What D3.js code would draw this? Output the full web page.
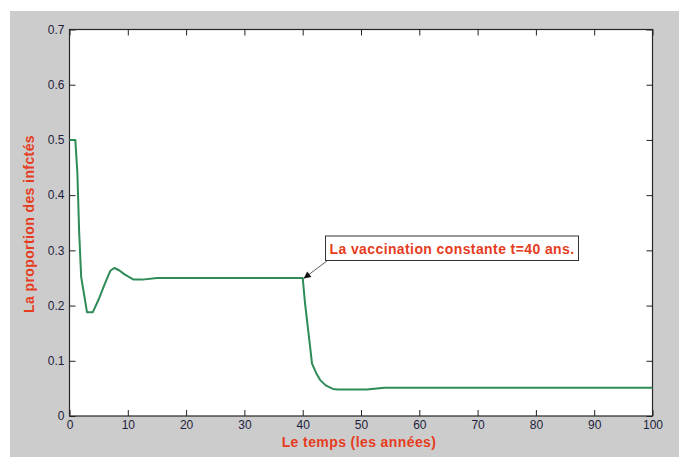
<!DOCTYPE html>
<html>
<head>
<meta charset="utf-8">
<script src="https://cdn.jsdelivr.net/npm/d3@7"></script>
<style>
  body { margin: 0; background: #fff; }
  text { font-family: "Liberation Sans", Arial, sans-serif; }
</style>
</head>
<body>
<div id="chart"></div>
<script>
// data
const timeYears = [0, 1, 1.35, 1.65, 2, 3, 4, 5, 6, 7, 7.7, 8.5, 9.5, 11, 12.5, 15, 20, 30, 40,
  40.4, 41, 41.6, 42.3, 43, 44, 45.2, 46, 51, 54, 60, 70, 80, 90, 100];
const infected = [0.5, 0.5, 0.44, 0.335, 0.252, 0.188, 0.188, 0.211, 0.238, 0.263, 0.268, 0.264, 0.256, 0.247, 0.247, 0.25, 0.25, 0.25, 0.25,
  0.204, 0.15, 0.095, 0.078, 0.065, 0.055, 0.049, 0.048, 0.048, 0.051, 0.051, 0.051, 0.051, 0.051, 0.051];
const xTicks = [0, 10, 20, 30, 40, 50, 60, 70, 80, 90, 100];
const yTicks = [0, 0.1, 0.2, 0.3, 0.4, 0.5, 0.6, 0.7];
const xLabel = "Le temps (les années)";
const yLabel = "La proportion des infctés";
const noteText = "La vaccination constante t=40 ans.";
const notePoint = [40, 0.25];

(function () {
  const svg_width = 679, svg_height = 457;
  const plot = { left: 69.5, right: 652.5, top: 29.5, bottom: 416 };
  const labelColor = "#e63c1e";
  const tickColor = "#1e1e3c";

  const x = d3.scaleLinear().domain([0, 100]).range([plot.left, plot.right]);
  const y = d3.scaleLinear().domain([0, 0.7]).range([plot.bottom, plot.top]);

  const svg = d3.select("#chart").append("svg")
    .attr("width", svg_width)
    .attr("height", svg_height);

  // figure background
  svg.append("rect")
    .attr("x", 10).attr("y", 11)
    .attr("width", svg_width - 10).attr("height", svg_height - 11)
    .attr("fill", "#cccccc");

  svg.append("rect")
    .attr("x", plot.left).attr("y", plot.top)
    .attr("width", plot.right - plot.left).attr("height", plot.bottom - plot.top)
    .attr("fill", "#fff");

  // axes (ticks inward, mirrored on top/right)
  const axisStyle = g => {
    g.select(".domain").remove();
    g.selectAll("line").attr("stroke", "#222");
    g.selectAll("text").attr("fill", tickColor).style("font-size", "12px");
  };

  svg.append("g")
    .attr("transform", "translate(0," + plot.bottom + ")")
    .call(d3.axisBottom(x).tickValues(xTicks).tickSizeInner(-6).tickSizeOuter(0).tickPadding(4).tickFormat(d3.format("d")))
    .call(axisStyle);

  svg.append("g")
    .attr("transform", "translate(0," + plot.top + ")")
    .call(d3.axisTop(x).tickValues(xTicks).tickSizeInner(-6).tickSizeOuter(0).tickFormat(""))
    .call(axisStyle);

  svg.append("g")
    .attr("transform", "translate(" + plot.left + ",0)")
    .call(d3.axisLeft(y).tickValues(yTicks).tickSizeInner(-6).tickSizeOuter(0).tickPadding(5).tickFormat(d => d === 0 ? "0" : d3.format(".1f")(d)))
    .call(axisStyle);

  svg.append("g")
    .attr("transform", "translate(" + plot.right + ",0)")
    .call(d3.axisRight(y).tickValues(yTicks).tickSizeInner(-6).tickSizeOuter(0).tickFormat(""))
    .call(axisStyle);

  // box
  svg.append("rect")
    .attr("x", plot.left).attr("y", plot.top)
    .attr("width", plot.right - plot.left).attr("height", plot.bottom - plot.top)
    .attr("fill", "none").attr("stroke", "#262626").attr("stroke-width", 1.2);

  // the curve
  const line = d3.line()
    .x((d, i) => x(timeYears[i]))
    .y(d => y(d));

  svg.append("path")
    .datum(infected)
    .attr("d", line)
    .attr("fill", "none")
    .attr("stroke", "#2e8b57")
    .attr("stroke-width", 2)
    .attr("stroke-linejoin", "round");

  // axis labels
  const boldLabel = t => t
    .attr("fill", labelColor)
    .style("font-size", "14px")
    .style("font-weight", "bold")
    .style("letter-spacing", "0.4px");

  svg.append("text")
    .attr("x", 359)
    .attr("y", 446.5)
    .attr("text-anchor", "middle")
    .call(boldLabel)
    .text(xLabel);

  svg.append("text")
    .attr("transform", "translate(33.5,224) rotate(-90)")
    .attr("text-anchor", "middle")
    .call(boldLabel)
    .text(yLabel);

  // annotation with arrow
  svg.append("defs").append("marker")
    .attr("id", "head")
    .attr("viewBox", "0 0 10 10")
    .attr("refX", 10).attr("refY", 5)
    .attr("markerWidth", 9).attr("markerHeight", 7)
    .attr("markerUnits", "userSpaceOnUse")
    .attr("orient", "auto")
    .append("path")
    .attr("d", "M0,0L10,5L0,10z")
    .attr("fill", "#111");

  svg.append("line")
    .attr("x1", 327.5).attr("y1", 260.5)
    .attr("x2", x(notePoint[0]) + 1).attr("y2", y(notePoint[1]) + 0.5)
    .attr("stroke", "#333")
    .attr("stroke-width", 0.8)
    .attr("marker-end", "url(#head)");

  svg.append("rect")
    .attr("x", 325.5).attr("y", 236)
    .attr("width", 253).attr("height", 24.5)
    .attr("fill", "#fff")
    .attr("stroke", "#333")
    .attr("stroke-width", 1);

  svg.append("text")
    .attr("x", 452).attr("y", 253.5)
    .attr("text-anchor", "middle")
    .call(boldLabel)
    .text(noteText);
})();
</script>
</body>
</html>
